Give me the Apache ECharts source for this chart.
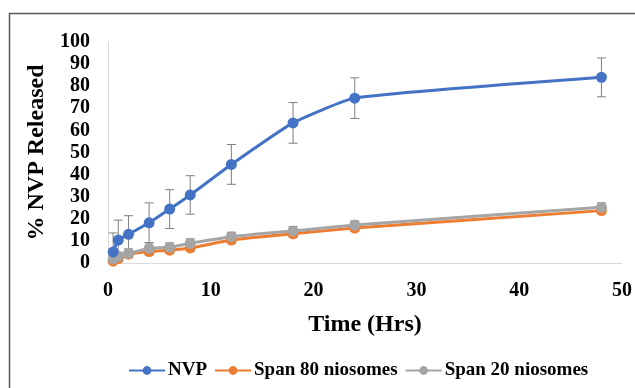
<!DOCTYPE html>
<html><head><meta charset="utf-8">
<script src="https://cdn.jsdelivr.net/npm/echarts@6/dist/echarts.min.js"></script>
<style>html,body{margin:0;padding:0;background:#fff}#c{width:635px;height:388px}</style>
</head><body><div id="c"></div>
<script>
var times = [0.5, 1, 2, 4, 6, 8, 12, 18, 24, 48];
var nvp = [5, 10.4, 13, 18.2, 24.4, 30.8, 44.6, 63.4, 74.6, 84];
var nvpErr = [8.6, 9, 8.4, 9, 8.8, 8.7, 9, 9.2, 9.2, 8.8];
var span80 = [0.8, 2, 4, 5.2, 5.8, 6.8, 10.4, 13.2, 15.8, 23.7];
var span80Err = [1.2, 1.5, 1.5, 1.5, 1.5, 1.5, 1.5, 1.5, 1.5, 1.5];
var span20 = [1.8, 3, 4.4, 6.6, 7.1, 8.9, 11.9, 14.5, 17.2, 25.2];
var span20Err = [1.5, 1.8, 2, 2.5, 2, 2, 2, 2, 1.8, 2];
var names = ['NVP', 'Span 80 niosomes', 'Span 20 niosomes'];
var colors = ['#4472C4', '#ED7D31', '#A5A5A5'];

function pairs(v){ return times.map(function(t,i){ return [t, v[i]]; }); }
function errData(v,e){ return times.map(function(t,i){ return [t, Math.max(0, v[i]-e[i]), v[i]+e[i]]; }); }
function errSeries(v,e,z){
  return {
    type:'custom', z:z, silent:true,
    data: errData(v,e),
    encode:{x:0,y:[1,2]},
    renderItem:function(params, api){
      var x = api.value(0);
      var lo = api.coord([x, api.value(1)]);
      var hi = api.coord([x, api.value(2)]);
      var w = 4.5;
      var st = {stroke:'#7F7F7F', lineWidth:1};
      return {type:'group', children:[
        {type:'line', shape:{x1:lo[0],y1:lo[1],x2:hi[0],y2:hi[1]}, style:st},
        {type:'line', shape:{x1:lo[0]-w,y1:lo[1],x2:lo[0]+w,y2:lo[1]}, style:st},
        {type:'line', shape:{x1:hi[0]-w,y1:hi[1],x2:hi[0]+w,y2:hi[1]}, style:st}
      ]};
    }
  };
}
var font = 'Liberation Serif';
var chart = echarts.init(document.getElementById('c'), null, {renderer:'canvas'});
chart.setOption({
  animation:false,
  backgroundColor:'#fff',
  graphic:[{type:'rect', shape:{x:9.5,y:13.5,width:700,height:500}, style:{fill:'none', stroke:'#595959', lineWidth:1.5}, z:-1}],
  grid:{left:108, top:42, right:12, bottom:125},
  legend:{
    data:names, top:356, left:123, itemWidth:36, itemHeight:11, itemGap:7,
    textStyle:{fontFamily:font, fontWeight:'bold', fontSize:19, color:'#000', padding:[0,0,0,-2]}
  },
  xAxis:{
    type:'value', min:0, max:50, interval:10,
    name:'Time (Hrs)', nameLocation:'middle', nameGap:50,
    nameTextStyle:{fontFamily:font, fontWeight:'bold', fontSize:24, color:'#000'},
    axisLine:{show:true, lineStyle:{color:'#D9D9D9', width:1}},
    axisTick:{show:false},
    splitLine:{show:false},
    axisLabel:{fontFamily:font, fontWeight:'bold', fontSize:20, color:'#000', margin:18}
  },
  yAxis:{
    type:'value', min:0, max:100, interval:10,
    name:'% NVP Released', nameLocation:'middle', nameGap:59,
    nameTextStyle:{fontFamily:font, fontWeight:'bold', fontSize:24, color:'#000'},
    axisLine:{show:true, lineStyle:{color:'#D9D9D9', width:1}},
    axisTick:{show:false},
    splitLine:{show:false},
    axisLabel:{fontFamily:font, fontWeight:'bold', fontSize:20, color:'#000', margin:18}
  },
  series:[
    errSeries(span80, span80Err, 1),
    errSeries(span20, span20Err, 1),
    errSeries(nvp, nvpErr, 1),
    {name:names[1], type:'line', data:pairs(span80), smooth:0.15, symbol:'circle', symbolSize:11, z:3,
      lineStyle:{color:colors[1], width:3}, itemStyle:{color:colors[1]}},
    {name:names[2], type:'line', data:pairs(span20), smooth:0.15, symbol:'circle', symbolSize:11, z:4,
      lineStyle:{color:colors[2], width:3}, itemStyle:{color:colors[2]}},
    {name:names[0], type:'line', data:pairs(nvp), smooth:0.15, symbol:'circle', symbolSize:11, z:5,
      lineStyle:{color:colors[0], width:3}, itemStyle:{color:colors[0]}}
  ]
});
</script></body></html>
